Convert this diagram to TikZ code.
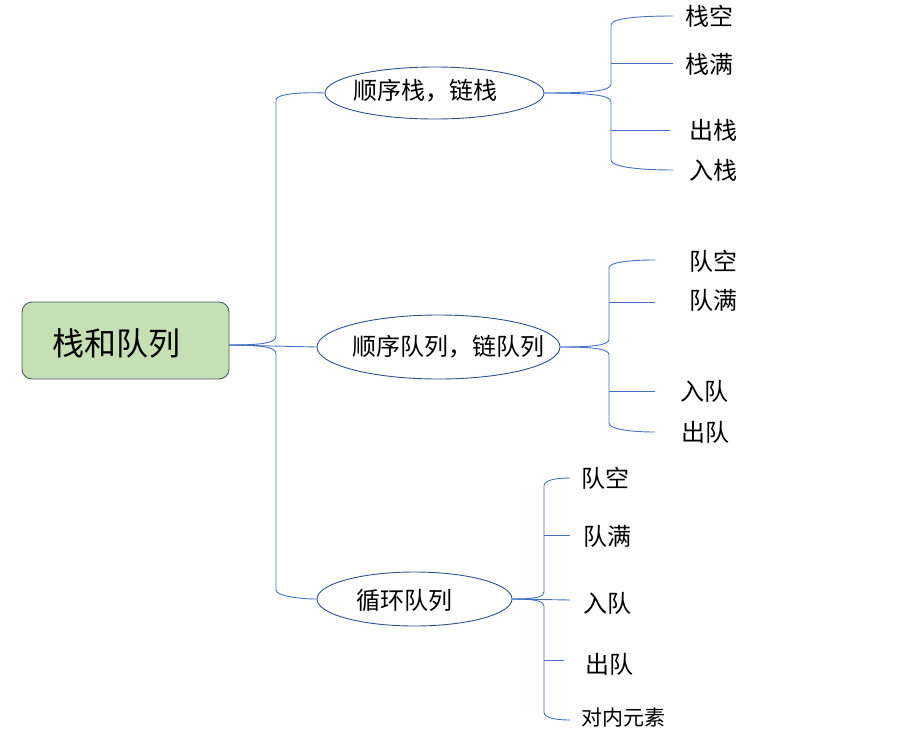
\documentclass[tikz,border=0pt]{standalone}
\usepackage{fontspec}
\setmainfont{Noto Sans CJK SC}
\usetikzlibrary{shapes.geometric}
\definecolor{linkblue}{HTML}{4472C4}
\definecolor{ellborder}{HTML}{2F528F}
\definecolor{rootfill}{HTML}{C5E0B4}
\definecolor{rootborder}{HTML}{4A5A6A}
\tikzset{
  rootbox/.style={draw=rootborder, fill=rootfill, rounded corners=10pt, line width=0.9pt,
    minimum width=207pt, minimum height=77pt, inner sep=0pt},
  topic/.style={draw=ellborder, ellipse, line width=0.9pt, inner sep=0pt},
  leaf/.style={inner sep=0pt, font=\fontsize{24}{28}\selectfont},
  smallleaf/.style={inner sep=0pt, font=\fontsize{21}{24}\selectfont},
  link/.style={draw=linkblue, line width=0.9pt}
}
\begin{document}
\begin{tikzpicture}[x=1pt,y=-1pt]
\useasboundingbox (0,0) rectangle (912,734);
% root
\node[rootbox] (root) at (125.5,340.5) {};
\node[inner sep=0pt, font=\fontsize{32}{36}\selectfont] (roottext) at (116,343) {栈和队列};
% topics
\node[topic, minimum width=219pt, minimum height=52pt] (t1) at (434.5,93) {};
\node[leaf] (t1text) at (425,91) {顺序栈，链栈};
\node[topic, minimum width=243pt, minimum height=64pt] (t2) at (438.5,347) {};
\node[leaf] (t2text) at (448,347) {顺序队列，链队列};
\node[topic, minimum width=195pt, minimum height=54pt] (t3) at (414.5,599) {};
\node[leaf] (t3text) at (404,600) {循环队列};
% root connectors
\coordinate (r0) at (229,345);
\draw[link] (r0) .. controls (262,345) and (276,343) .. (276,336) -- (276,100) .. controls (276,94) and (300,92) .. (t1.west);
\draw[link] (r0) -- (t2.west);
\draw[link] (r0) .. controls (262,345) and (276,347) .. (276,354) -- (276,590) .. controls (276,596) and (300,599) .. (t3.west);
% branch 1
\node[leaf] (a1) at (709,16) {栈空};
\node[leaf] (a2) at (709,64) {栈满};
\node[leaf] (a3) at (713,130) {出栈};
\node[leaf] (a4) at (713,170) {入栈};
\coordinate (a1e) at (673,16);
\coordinate (a2e) at (673,63);
\coordinate (a3e) at (670,130);
\coordinate (a4e) at (673,170);
\coordinate (b1) at (611,63);
\coordinate (b3) at (611,130);
\draw[link] (t1.east) .. controls (590,93) and (611,91) .. (611,84) -- (611,25) .. controls (611,18) and (640,16) .. (a1e);
\draw[link] (b1) -- (a2e);
\draw[link] (t1.east) .. controls (590,93) and (611,95) .. (611,102) -- (611,160) .. controls (611,167) and (640,170) .. (a4e);
\draw[link] (b3) -- (a3e);
% branch 2
\node[leaf] (c1) at (713,261) {队空};
\node[leaf] (c2) at (713,300) {队满};
\node[leaf] (c3) at (704,391) {入队};
\node[leaf] (c4) at (705,432) {出队};
\coordinate (c1e) at (655,260);
\coordinate (c2e) at (655,302);
\coordinate (c3e) at (655,391);
\coordinate (c4e) at (655,432);
\coordinate (d2) at (609,302);
\coordinate (d3) at (609,391);
\draw[link] (t2.east) .. controls (595,347) and (609,345) .. (609,339) -- (609,268) .. controls (609,262) and (630,260) .. (c1e);
\draw[link] (d2) -- (c2e);
\draw[link] (t2.east) .. controls (595,347) and (609,349) .. (609,355) -- (609,423) .. controls (609,429) and (630,432) .. (c4e);
\draw[link] (d3) -- (c3e);
% branch 3
\node[leaf] (e1) at (605,478) {队空};
\node[leaf] (e2) at (607,536) {队满};
\node[leaf] (e3) at (607,603) {入队};
\node[leaf] (e4) at (609,664) {出队};
\node[smallleaf] (e5) at (623,718) {对内元素};
\coordinate (e1e) at (570,478);
\coordinate (e2e) at (570,535);
\coordinate (e3e) at (570,600);
\coordinate (e4e) at (564,660);
\coordinate (e5e) at (570,720);
\coordinate (f2) at (544,535);
\coordinate (f4) at (544,660);
\draw[link] (t3.east) .. controls (535,599) and (544,597) .. (544,592) -- (544,486) .. controls (544,480) and (556,478) .. (e1e);
\draw[link] (f2) -- (e2e);
\draw[link] (t3.east) -- (e3e);
\draw[link] (t3.east) .. controls (535,599) and (544,601) .. (544,606) -- (544,712) .. controls (544,718) and (556,720) .. (e5e);
\draw[link] (f4) -- (e4e);
\end{tikzpicture}
\end{document}
